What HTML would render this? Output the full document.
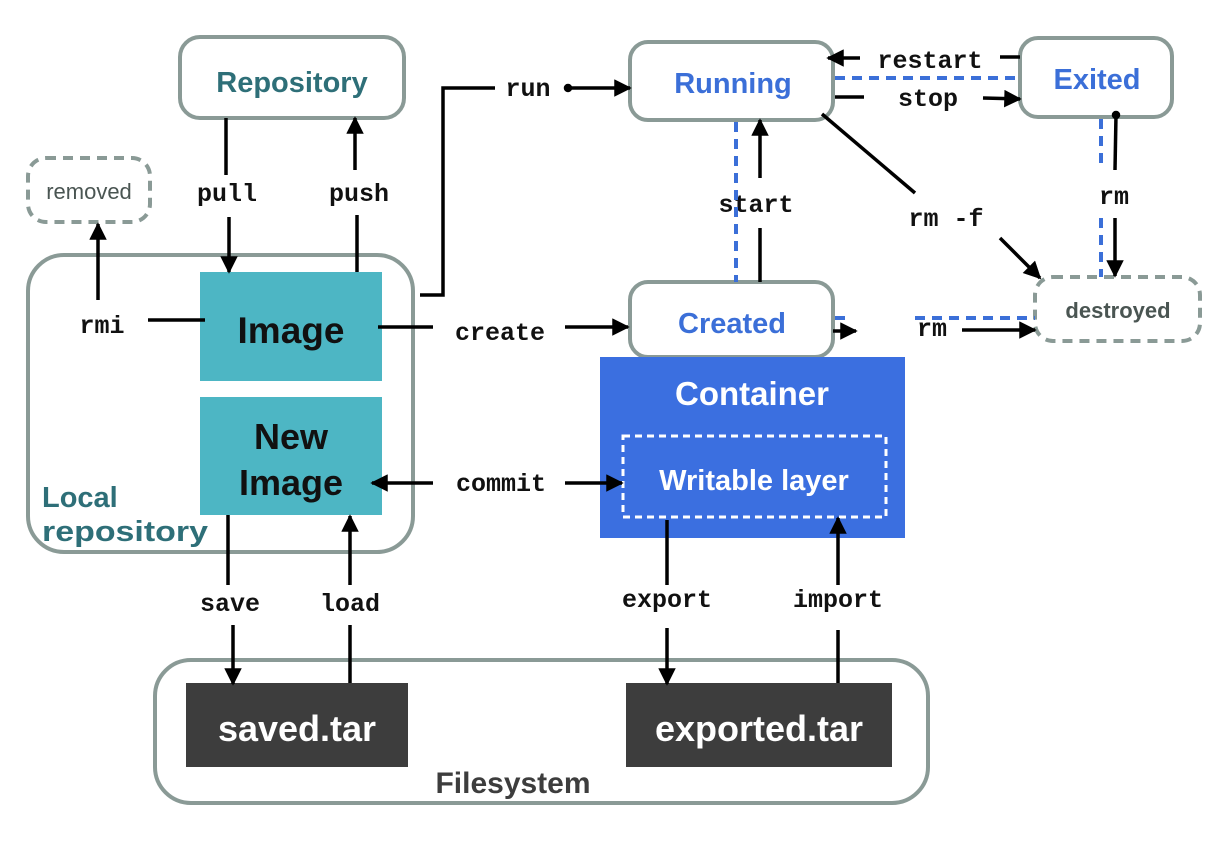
<!DOCTYPE html>
<html><head><meta charset="utf-8"><style>
html,body{margin:0;padding:0;background:#fff;}
svg{display:block}
.m{font-family:"Liberation Mono",monospace;font-weight:bold;font-size:25px;fill:#111;text-anchor:middle}
.s{font-family:"Liberation Sans",sans-serif;font-weight:bold;text-anchor:middle}
</style></head><body>
<svg width="1222" height="846" viewBox="0 0 1222 846" xmlns="http://www.w3.org/2000/svg">
<defs>
<marker id="a" viewBox="0 0 10 10" refX="9" refY="5" markerWidth="5.5" markerHeight="5" orient="auto" markerUnits="strokeWidth"><path d="M0,0 L10,5 L0,10 z" fill="#000"/></marker>
</defs>
<g fill="none" stroke="#8a9a96" stroke-width="4">
<rect x="180" y="37" width="224" height="81" rx="20"/>
<rect x="28" y="158" width="122" height="64" rx="18" stroke-dasharray="10,7"/>
<rect x="28" y="255" width="385" height="297" rx="36"/>
<rect x="630" y="42" width="203" height="78" rx="18"/>
<rect x="1020" y="38" width="152" height="79" rx="18"/>
<rect x="630" y="282" width="203" height="75" rx="18"/>
<rect x="1035" y="277" width="165" height="64" rx="18" stroke-dasharray="10,7"/>
<rect x="155" y="660" width="773" height="143" rx="36"/>
</g>
<rect x="200" y="272" width="182" height="109" fill="#4db6c4"/>
<rect x="200" y="397" width="182" height="118" fill="#4db6c4"/>
<rect x="600" y="357" width="305" height="181" fill="#3b6fe0"/>
<rect x="623" y="436" width="263" height="81" fill="none" stroke="#fff" stroke-width="3" stroke-dasharray="7,5"/>
<rect x="186" y="683" width="222" height="84" fill="#3d3d3d"/>
<rect x="626" y="683" width="266" height="84" fill="#3d3d3d"/>

<g class="s">
<text x="292" y="92" font-size="29" fill="#2e6f78">Repository</text>
<text x="89" y="199" font-size="22" fill="#4a5552" font-weight="normal">removed</text>
<text x="291" y="343" font-size="37" fill="#111">Image</text>
<text x="291" y="449" font-size="36" fill="#111">New</text>
<text x="291" y="495" font-size="36" fill="#111">Image</text>
<text x="42" y="507" font-size="29" fill="#2e6f78" text-anchor="start">Local</text>
<text x="42" y="541" font-size="29" fill="#2e6f78" textLength="166" lengthAdjust="spacingAndGlyphs" text-anchor="start">repository</text>
<text x="733" y="93" font-size="29" fill="#3b6fd8">Running</text>
<text x="1097" y="89" font-size="29" fill="#3b6fd8">Exited</text>
<text x="732" y="333" font-size="29" fill="#3b6fd8">Created</text>
<text x="1118" y="318" font-size="22" fill="#4a5552">destroyed</text>
<text x="752" y="405" font-size="33" fill="#fff">Container</text>
<text x="754" y="490" font-size="29" fill="#fff">Writable layer</text>
<text x="297" y="741" font-size="36" fill="#fff">saved.tar</text>
<text x="759" y="741" font-size="36" fill="#fff">exported.tar</text>
<text x="513" y="793" font-size="30" fill="#3d3d3d">Filesystem</text>
</g>

<g class="m">
<text x="227" y="201">pull</text>
<text x="359" y="201">push</text>
<text x="102" y="333">rmi</text>
<text x="528" y="96">run</text>
<text x="500" y="340">create</text>
<text x="501" y="491">commit</text>
<text x="230" y="611">save</text>
<text x="350" y="611">load</text>
<text x="667" y="607">export</text>
<text x="838" y="607">import</text>
<text x="756" y="212">start</text>
<text x="930" y="68">restart</text>
<text x="928" y="106">stop</text>
<text x="946" y="226">rm -f</text>
<text x="1114" y="204">rm</text>
<text x="932" y="336">rm</text>
</g>

<g stroke="#3b6fd8" stroke-width="4" stroke-dasharray="10,7" fill="none">
<line x1="736" y1="122" x2="736" y2="282"/>
<line x1="835" y1="78" x2="1020" y2="78"/>
<line x1="1101" y1="119" x2="1101" y2="170"/>
<line x1="1101" y1="218" x2="1101" y2="277"/>
<line x1="835" y1="318" x2="848" y2="318"/>
<line x1="915" y1="318" x2="1035" y2="318"/>
</g>

<g stroke="#000" stroke-width="3.5" fill="none">
<line x1="226" y1="118" x2="226" y2="175"/>
<line x1="229" y1="217" x2="229" y2="272" marker-end="url(#a)"/>
<line x1="357" y1="272" x2="357" y2="215"/>
<line x1="355" y1="170" x2="355" y2="118" marker-end="url(#a)"/>
<line x1="148" y1="320" x2="205" y2="320"/>
<line x1="98" y1="300" x2="98" y2="224" marker-end="url(#a)"/>
<polyline points="420,295 443,295 443,88 495,88"/>
<line x1="568" y1="88" x2="630" y2="88" marker-end="url(#a)"/>
<circle cx="568" cy="88" r="2.5" fill="#000"/>
<line x1="378" y1="327" x2="433" y2="327"/>
<line x1="565" y1="327" x2="628" y2="327" marker-end="url(#a)"/>
<line x1="433" y1="483" x2="372" y2="483" marker-end="url(#a)"/>
<line x1="565" y1="483" x2="622" y2="483" marker-end="url(#a)"/>
<line x1="228" y1="515" x2="228" y2="585"/>
<line x1="233" y1="625" x2="233" y2="684" marker-end="url(#a)"/>
<line x1="350" y1="585" x2="350" y2="516" marker-end="url(#a)"/>
<line x1="350" y1="625" x2="350" y2="683"/>
<line x1="667" y1="520" x2="667" y2="585"/>
<line x1="667" y1="628" x2="667" y2="684" marker-end="url(#a)"/>
<line x1="838" y1="585" x2="838" y2="518" marker-end="url(#a)"/>
<line x1="838" y1="630" x2="838" y2="683"/>
<line x1="760" y1="282" x2="760" y2="228"/>
<line x1="760" y1="178" x2="760" y2="120" marker-end="url(#a)"/>
<line x1="1020" y1="57" x2="1000" y2="57"/>
<line x1="860" y1="58" x2="828" y2="58" marker-end="url(#a)"/>
<line x1="835" y1="97" x2="864" y2="97"/>
<line x1="983" y1="98" x2="1020" y2="99" marker-end="url(#a)"/>
<line x1="822" y1="114" x2="915" y2="193"/>
<line x1="1000" y1="238" x2="1040" y2="278" marker-end="url(#a)"/>
<line x1="1116" y1="115" x2="1115" y2="170"/>
<circle cx="1116" cy="115" r="2.5" fill="#000"/>
<line x1="1115" y1="218" x2="1115" y2="276" marker-end="url(#a)"/>
<line x1="833" y1="331" x2="856" y2="331" marker-end="url(#a)"/>
<line x1="962" y1="330" x2="1035" y2="330" marker-end="url(#a)"/>
</g>
</svg>
</body></html>
